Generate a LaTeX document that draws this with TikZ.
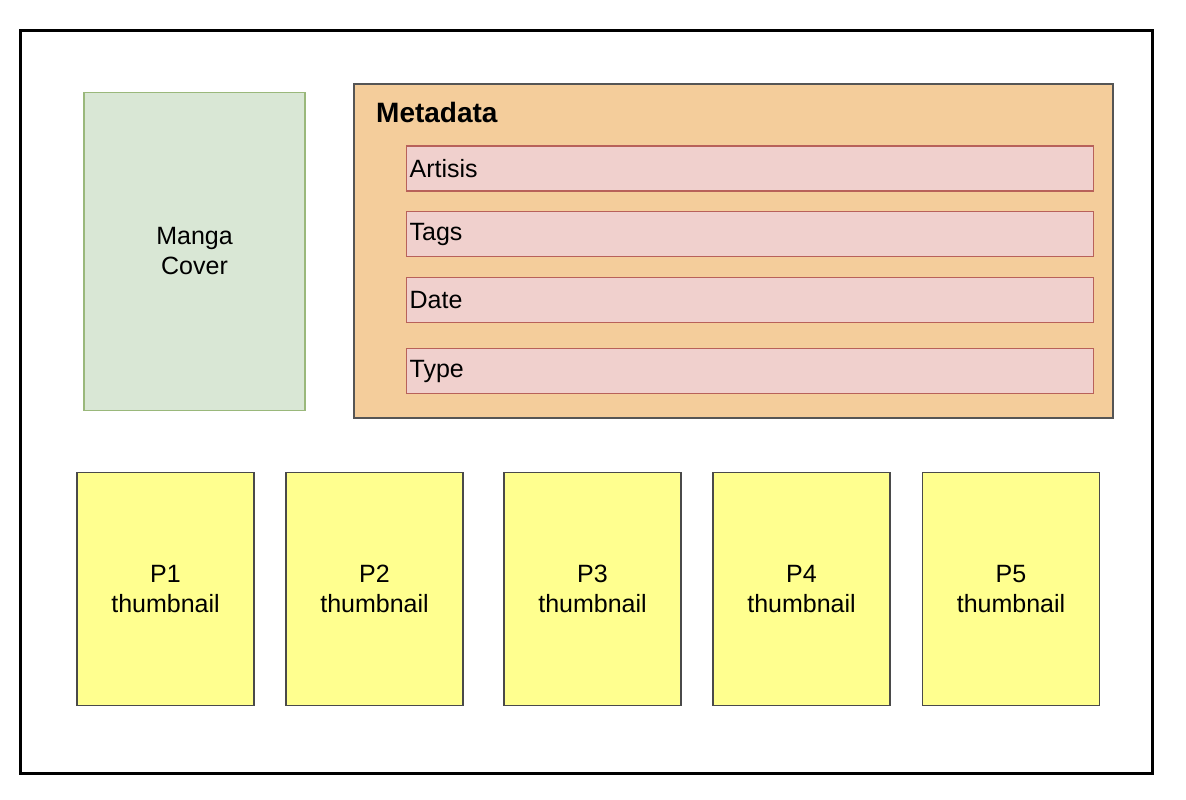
\documentclass[tikz,border=0pt]{standalone}
\usepackage{fontspec}
\setmainfont{Liberation Sans}
\usepackage{tikz}
\usepackage{color}

\definecolor{coverfill}{HTML}{D9E7D5}
\definecolor{coverline}{HTML}{9AB87B}
\definecolor{metafill}{HTML}{F4CD9B}
\definecolor{metaline}{HTML}{555555}
\definecolor{fieldfill}{HTML}{F0D0CD}
\definecolor{fieldline}{HTML}{B8615A}
\definecolor{thumbfill}{HTML}{FFFF8F}
\definecolor{thumbline}{HTML}{4A4A4A}

\begin{document}
\begin{tikzpicture}[x=1pt,y=-1pt]
                \useasboundingbox (0,0) rectangle (1186,800);
                \tikzstyle{every node}+=[inner sep=0pt, font=\fontsize{25}{30}\selectfont]
                \tikzstyle{field}=[draw=fieldline, fill=fieldfill, line width=1.3pt, anchor=west, minimum height=45pt, inner xsep=3pt, text width=681pt, align=left]
                \tikzstyle{thumb}=[draw=thumbline, fill=thumbfill, line width=1.3pt, minimum width=177pt, minimum height=233pt, align=center]
                % outer page
                \node [draw=black, line width=3pt, minimum width=1132pt, minimum height=742pt] (page) at (586,402) {};
                % cover
                \node [draw=coverline, fill=coverfill, line width=1.3pt, minimum width=221pt, minimum height=318pt, align=center] (cover) at (194.5,251.5) {Manga\\Cover};
                % metadata block
                \node [draw=metaline, fill=metafill, line width=1.3pt, minimum width=759pt, minimum height=334pt] (meta) at (733.5,251) {};
                \node [anchor=base west, font=\fontsize{28}{34}\selectfont\bfseries] (metatitle) at (376,122.5) {Metadata};
                \node [field] (artisis) at (406,168.5) {Artisis};
                \node [field] (tags) at (406,234) {Tags};
                \node [field] (date) at (406,300) {Date};
                \node [field] (type) at (406,371) {Type};
                % thumbnails
                \foreach \x/\n in {165.5/1, 374.5/2, 592.5/3, 801.5/4, 1011/5}
                  \node [thumb] (p\n) at (\x,589) {P\n\\thumbnail};
\end{tikzpicture}
\end{document}
